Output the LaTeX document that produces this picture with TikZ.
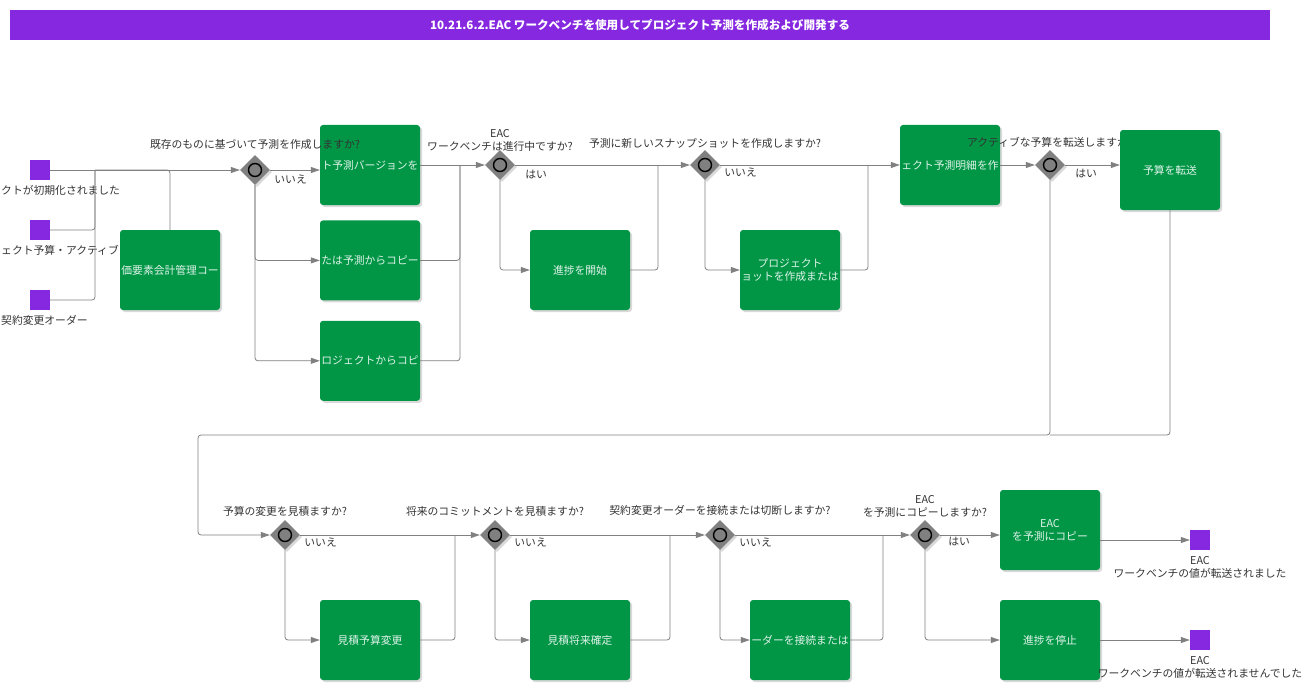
\documentclass[tikz,border=0pt]{standalone}
\usepackage{fontspec}
\setmainfont{Noto Sans CJK JP}
\usetikzlibrary{positioning, shapes.geometric, shadows, arrows.meta}

\definecolor{taskgreen}{RGB}{0,150,70}
\definecolor{evtpurple}{RGB}{135,40,225}
\definecolor{flowgray}{RGB}{128,128,128}

\begin{document}
\begin{tikzpicture}[
      x=1pt, y=-1pt,
      every node/.style={font=\fontsize{10.8}{13}\selectfont},
      task/.style={fill=taskgreen, rounded corners=3pt, minimum width=100pt, minimum height=80pt,
                   inner sep=0pt, align=center, text=white!88!taskgreen,
                   drop shadow={shadow xshift=2pt, shadow yshift=-2pt, opacity=.3}},
      evt/.style={fill=evtpurple, minimum size=20pt, inner sep=0pt},
      gate/.style={diamond, fill=flowgray, minimum width=30pt, minimum height=30pt, inner sep=0pt,
                   drop shadow={shadow xshift=2pt, shadow yshift=-2pt, opacity=.3},
                   path picture={\draw[line width=1.4pt] (path picture bounding box.center) circle (6.5pt);}},
      lbl/.style={text=black!80, inner sep=1pt, align=center},
      line/.style={draw=flowgray, line width=.8pt, rounded corners=3pt},
      flow/.style={line, -{Triangle[length=9pt, width=6pt]}}
    ]
    \useasboundingbox (0,0) rectangle (1316,690);

    \node[fill=evtpurple, minimum width=1260pt, minimum height=30pt, inner sep=0pt, text=white,
          font=\fontsize{11.6}{13}\selectfont\bfseries] (title) at (640,25)
          {10.21.6.2.EAC ワークベンチを使用してプロジェクト予測を作成および開発する};

    % start events
    \node[evt] (s1) at (40,170) {};
    \node[evt] (s2) at (40,230) {};
    \node[evt] (s3) at (40,300) {};
    \node[lbl, anchor=west] (s1l) at (0,190) {クトが初期化されました};
    \node[lbl, anchor=west] (s2l) at (0,250) {ェクト予算・アクティブ};
    \node[lbl, anchor=west] (s3l) at (0,320) {契約変更オーダー};

    % upper row
    \node[task] (t0) at (170,270) {価要素会計管理コー};
    \node[gate] (g1) at (255,170) {};
    \node[task] (t1) at (370,165) {ト予測バージョンを};
    \node[task, below=15pt of t1] (t2) {たは予測からコピー};
    \node[task, below=20pt of t2] (t3) {ロジェクトからコピ};
    \node[gate] (g2) at (500,165) {};
    \node[task] (t4) at (580,270) {進捗を開始};
    \node[gate] (g3) at (705,165) {};
    \node[task] (t5) at (790,270) {プロジェクト\\ョットを作成または};
    \node[task] (t6) at (950,165) {ェクト予測明細を作};
    \node[gate] (g4) at (1050,165) {};

    \node[lbl, above=4pt of g1] (g1l) {既存のものに基づいて予測を作成しますか?};
    \node[lbl, below right=4pt and 3pt of g1.east] (g1n) {いいえ};
    \node[lbl, above=-3pt of g2] (g2l) {EAC\\ワークベンチは進行中ですか?};
    \node[lbl, below right=4pt and 9pt of g2.east] (g2y) {はい};
    \node[lbl, above=0pt of g3] (g3l) {予測に新しいスナップショットを作成しますか?};
    \node[lbl, below right=2pt and 3pt of g3.east] (g3n) {いいえ};
    \node[lbl, above=1pt of g4] (g4l) {アクティブな予算を転送しますか?};
    \node[lbl, below right=3pt and 9pt of g4.east] (g4y) {はい};
    \node[task] (t7) at (1170,170) {予算を転送};

    % lower row
    \node[gate] (g5) at (285,535) {};
    \node[task] (t8) at (370,640) {見積予算変更};
    \node[gate] (g6) at (495,535) {};
    \node[task] (t9) at (580,640) {見積将来確定};
    \node[gate] (g7) at (720,535) {};
    \node[task] (t10) at (800,640) {ーダーを接続または};
    \node[gate] (g8) at (925,535) {};
    \node[task] (t11) at (1050,530) {EAC\\を予測にコピー};
    \node[task] (t12) at (1050,640) {進捗を停止};

    \node[lbl, above=2pt of g5] (g5l) {予算の変更を見積ますか?};
    \node[lbl, below right=2pt and 3pt of g5.east] (g5n) {いいえ};
    \node[lbl, above=2pt of g6] (g6l) {将来のコミットメントを見積ますか?};
    \node[lbl, below right=2pt and 3pt of g6.east] (g6n) {いいえ};
    \node[lbl, above=3pt of g7] (g7l) {契約変更オーダーを接続または切断しますか?};
    \node[lbl, below right=2pt and 3pt of g7.east] (g7n) {いいえ};
    \node[lbl, above=1pt of g8] (g8l) {EAC\\を予測にコピーしますか?};
    \node[lbl, below right=1pt and 7pt of g8.east] (g8y) {はい};

    % end events
    \node[evt] (e1) at (1200,540) {};
    \node[evt] (e2) at (1200,640) {};
    \node[lbl, below=5pt of e1] (e1l) {EAC\\ワークベンチの値が転送されました};
    \node[lbl, below=5pt of e2] (e2l) {EAC\\ワークベンチの値が転送されませんでした};

    % junction points
    \coordinate (jA) at (95,170);
    \coordinate (jB) at (460,165);
    \coordinate (jC) at (658,165);
    \coordinate (jD) at (868,165);
    \coordinate (loopR) at (1050,435);
    \coordinate (loopL) at (198,435);
    \coordinate (jF) at (455,535);
    \coordinate (jG) at (670,535);
    \coordinate (jH) at (883,535);

    % connectors, upper row
    \draw[flow] (s1) -- (g1);
    \draw[line] (s2) -| (jA);
    \draw[line] (s3) -| (jA);
    \draw[line] (t0) |- (jA);
    \draw[flow] (g1) -- (g1 -| t1.west);
    \draw[flow] (g1) |- (t2);
    \draw[flow] (g1) |- (t3);
    \draw[flow] (t1) -- (g2);
    \draw[line] (t2) -| (jB);
    \draw[line] (t3) -| (jB);
    \draw[flow] (g2) -- (g3);
    \draw[flow] (g2) |- (t4);
    \draw[line] (t4) -| (jC);
    \draw[flow] (g3) -- (t6);
    \draw[flow] (g3) |- (t5);
    \draw[line] (t5) -| (jD);
    \draw[flow] (t6) -- (g4);
    \draw[flow] (g4) -- (g4 -| t7.west);

    % back to the lower row
    \draw[flow] (g4) |- (loopL) |- (g5);
    \draw[line] (t7) |- (loopR);

    % connectors, lower row
    \draw[flow] (g5) -- (g6);
    \draw[flow] (g5) |- (t8);
    \draw[line] (t8) -| (jF);
    \draw[flow] (g6) -- (g7);
    \draw[flow] (g6) |- (t9);
    \draw[line] (t9) -| (jG);
    \draw[flow] (g7) -- (g8);
    \draw[flow] (g7) |- (t10);
    \draw[line] (t10) -| (jH);
    \draw[flow] (g8) -- (g8 -| t11.west);
    \draw[flow] (g8) |- (t12);
    \draw[flow] (t11.east |- e1) -- (e1);
    \draw[flow] (t12) -- (e2);
\end{tikzpicture}
\end{document}
